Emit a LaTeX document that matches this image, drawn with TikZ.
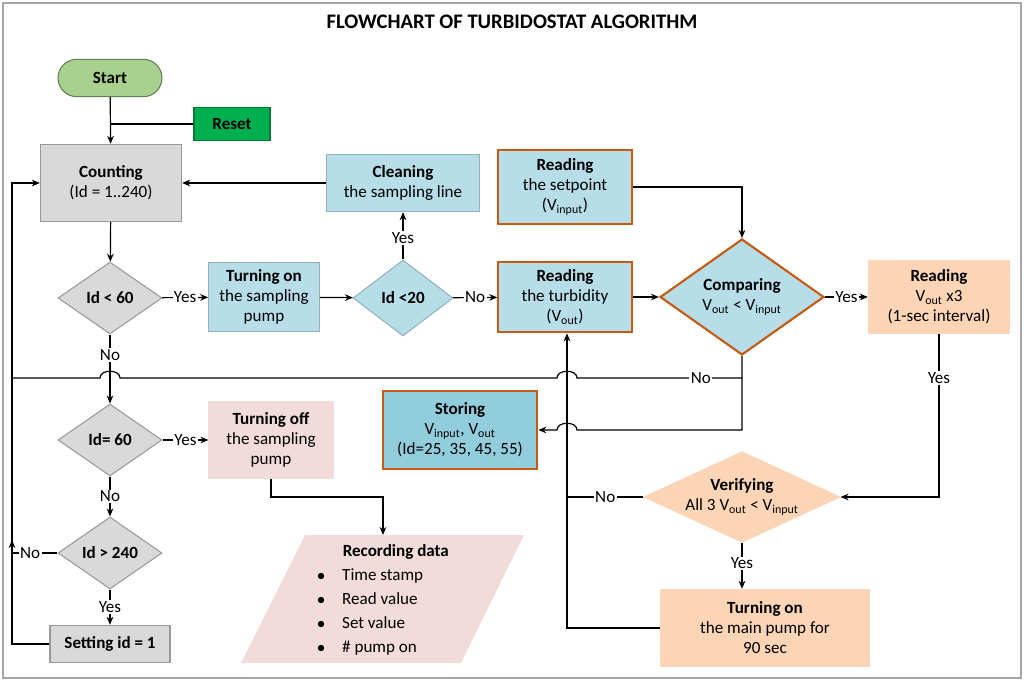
\documentclass[tikz,border=0pt]{standalone}
\usepackage{fontspec}
\setmainfont{Carlito}
\usetikzlibrary{shapes.geometric,arrows.meta}
\definecolor{gr}{HTML}{D9D9D9}
\definecolor{bl}{HTML}{B7DEE8}
\definecolor{bld}{HTML}{92CDDC}
\definecolor{og}{HTML}{C55A11}
\definecolor{pe}{HTML}{FBD5B5}
\definecolor{pk}{HTML}{F2DCDB}
\definecolor{lg}{HTML}{A9D18E}
\definecolor{dg}{HTML}{00B050}
\begin{document}
\begin{tikzpicture}[x=0.75pt,y=-0.75pt,font=\fontsize{12.8}{15}\selectfont,
  box/.style={rectangle,draw=#1,thick,align=center,inner sep=2pt},
  dia/.style={diamond,draw=#1,thick,align=center,inner sep=0pt,aspect=1.45},
  ln/.style={draw=black,line width=0.9pt},
  ar/.style={ln,-{Stealth[length=6pt,width=5pt]}},
  lb/.style={fill=white,inner sep=1pt}]
\useasboundingbox (0,0) rectangle (1024,681);
\draw[gray!70,line width=1pt] (3,3) rectangle (1021,678);
\node (title) at (512,22) {\fontsize{15.5}{18}\selectfont\bfseries FLOWCHART OF TURBIDOSTAT ALGORITHM};

\node[box=lg!60!black,fill=lg,rounded corners=14pt,minimum width=78pt,minimum height=28pt] (start) at (110,78) {\bfseries Start};
\node[box=dg!70!black,fill=dg,minimum width=57pt,minimum height=25pt] (reset) at (232,124) {\bfseries Reset};
\node[box=gray!80,fill=gr,minimum width=106pt,minimum height=58pt] (count) at (111,183) {\bfseries Counting\\(Id = 1..240)};
\node[box=bl!80!black,fill=bl,minimum width=115pt,minimum height=43pt] (clean) at (403,183) {\bfseries Cleaning\\the sampling line};
\node[box=og,fill=bl,line width=1.6pt,minimum width=100pt,minimum height=56pt] (rsp) at (565,187) {\bfseries Reading\\the setpoint\\(V\textsubscript{input})};
\node[dia=gray!80,fill=gr,minimum width=78pt,minimum height=54pt] (d60) at (110,298) {\bfseries Id < 60};
\node[box=bl!80!black,fill=bl,minimum width=83pt,minimum height=52pt] (ton) at (264,297) {\bfseries Turning on\\the sampling\\pump};
\node[dia=bl!80!black,fill=bl,minimum width=75pt,minimum height=57pt] (d20) at (403,298) {\bfseries Id <20};
\node[box=og,fill=bl,line width=1.6pt,minimum width=100pt,minimum height=53pt] (rtb) at (565,297) {\bfseries Reading\\the turbidity\\(V\textsubscript{out})};
\node[dia=og,fill=bl,line width=1.6pt,minimum width=123pt,minimum height=87pt] (cmp) at (742,297) {\bfseries Comparing\\V\textsubscript{out} < V\textsubscript{input}};
\node[box=pe,fill=pe,minimum width=106pt,minimum height=55pt] (r3) at (939,297) {\bfseries Reading\\V\textsubscript{out} x3\\(1-sec interval)};
\node[box=og,fill=bld,line width=1.6pt,minimum width=116pt,minimum height=58pt] (store) at (460,430) {\bfseries Storing\\V\textsubscript{input}, V\textsubscript{out}\\(Id=25, 35, 45, 55)};
\node[dia=gray!80,fill=gr,minimum width=78pt,minimum height=54pt] (de60) at (110,440) {\bfseries Id= 60};
\node[box=pk,fill=pk,minimum width=93pt,minimum height=57pt] (toff) at (271,440) {\bfseries Turning off\\the sampling\\pump};
\node[dia=gray!80,fill=gr,minimum width=78pt,minimum height=54pt] (d240) at (110,553) {\bfseries Id > 240};
\fill[pk] (305,535) -- (524,535) -- (461,663) -- (241,663) -- cycle;
\node[align=left,anchor=north] (rec) at (383,540) {\bfseries\quad\; Recording data\\[3pt]$\bullet$\quad Time stamp\\[3pt]$\bullet$\quad Read value\\[3pt]$\bullet$\quad Set value\\[3pt]$\bullet$\quad \# pump on};
\coordinate (rectop) at (383,535);
\node[box=gray!80,fill=gr,minimum width=90pt,minimum height=28pt] (set) at (110,644) {\bfseries Setting id = 1};
\node[dia=pe,fill=pe,minimum width=147pt,minimum height=68pt,aspect=2.2] (ver) at (742,497) {\bfseries Verifying\\All 3 V\textsubscript{out} < V\textsubscript{input}};
\node[box=pe,fill=pe,minimum width=157pt,minimum height=58pt] (main) at (765,628) {\bfseries Turning on\\the main pump for\\90 sec};

\coordinate (rj) at (110,124);
\coordinate (c567) at (567,497);
\draw[ar] (start) -- (count);
\draw[ln] (reset) -- (rj);
\draw[ar] (count) -- (d60);
\draw[ar] (d60) -- node[lb]{Yes} (ton);
\draw[ar] (ton) -- (d20);
\draw[ar] (d20) -- node[lb]{No} (rtb);
\draw[ar] (d20) -- node[lb,pos=0.45]{Yes} (clean);
\draw[ar] (clean) -- (count);
\draw[ar] (rsp.east) -| (cmp.north);
\draw[ar] (rtb) -- (cmp);
\draw[ar] (cmp) -- node[lb]{Yes} (r3);
\draw[ar] (r3.south) -- node[lb,pos=0.27]{Yes} (939,497) -- (ver.east);
\draw[ar] (ver.west) -- node[lb,pos=0.5]{No} (c567) -- (c567 |- rtb.south);
\draw[ar] (ver.south) -- node[lb,pos=0.45]{Yes} (ver.south |- main.north);
\draw[ln] (main.west) -- (567,628) -- (c567);
\draw[ln] (cmp.south) -- (742,378) -- node[lb,pos=0.25]{No} (577,378) .. controls (577,369) and (557,369) .. (557,378) -- (120,378) .. controls (120,369) and (100,369) .. (100,378) -- (12,378);
\draw[ar] (742,378) -- (742,430) -- (577,430) .. controls (577,421) and (557,421) .. (557,430) -- (store.east);
\draw[ar] (d60) -- node[lb,pos=0.3]{No} (de60);
\draw[ar] (de60) -- node[lb]{Yes} (toff);
\draw[ar] (toff.south) -- (271,497) -- (383,497) -- (rectop);
\draw[ar] (de60) -- node[lb,pos=0.5]{No} (d240);
\draw[ar] (d240) -- node[lb,pos=0.5]{Yes} (set);
\draw[ar] (d240.west) -- node[lb,pos=0.6]{No} (12,553) -- (12,540);
\draw[ln] (12,540) -- (12,378);
\draw[ar] (set.west) -- (12,644) -- (12,183) -- (count.west);
\end{tikzpicture}
\end{document}
